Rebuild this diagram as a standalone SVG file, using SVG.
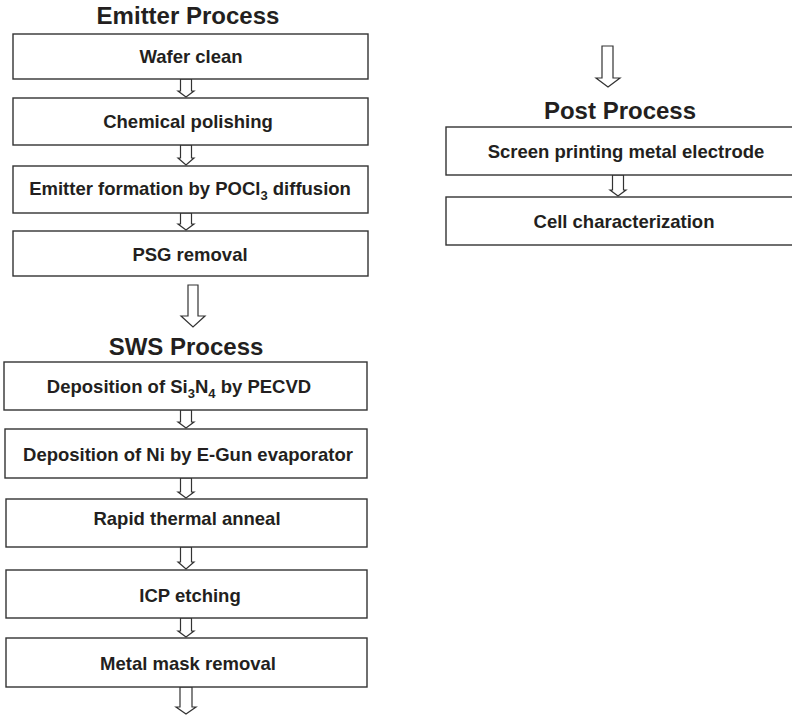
<svg xmlns="http://www.w3.org/2000/svg" width="792" height="715" viewBox="0 0 792 715">
<style>
.box{fill:#fff;stroke:#333;stroke-width:1.4}
.arr{fill:#fff;stroke:#333;stroke-width:1.2;stroke-linejoin:miter}
.t{font-family:"Liberation Sans",Arial,sans-serif;font-weight:bold;font-size:18.5px;fill:#231f20;text-anchor:middle}
.h{font-family:"Liberation Sans",Arial,sans-serif;font-weight:bold;font-size:24px;fill:#231f20;text-anchor:middle}
.sub{font-size:13px}
</style>
<rect width="792" height="715" fill="#fff"/>
<g id="titles">
<text class="h" x="188" y="24">Emitter Process</text>
<text class="h" x="186" y="355">SWS Process</text>
<text class="h" x="620" y="119">Post Process</text>
</g>
<g id="connectors">
<path class="arr" d="M180.5 79 V91 H178 L186 97 L194 91 H191.5 V79 Z"/>
<path class="arr" d="M180.5 145 V158 H178 L186 165 L194 158 H191.5 V145 Z"/>
<path class="arr" d="M180.5 213 V224 H178 L186 230 L194 224 H191.5 V213 Z"/>
<path class="arr" d="M188 285 V316 H181 L193 327 L205 316 H198 V285 Z"/>
<path class="arr" d="M180.5 410 V422 H178 L186 428 L194 422 H191.5 V410 Z"/>
<path class="arr" d="M180.5 478 V492 H178 L186 498 L194 492 H191.5 V478 Z"/>
<path class="arr" d="M180.5 547 V562 H178 L186 569 L194 562 H191.5 V547 Z"/>
<path class="arr" d="M180.5 618 V631 H178 L186 637 L194 631 H191.5 V618 Z"/>
<path class="arr" d="M180 687 V707 H176 L186 714 L196 707 H192 V687 Z"/>
<path class="arr" d="M602 46 V78 H596 L608 87 L620 78 H613 V46 Z"/>
<path class="arr" d="M612.5 175 V190 H610 L618 196 L626 190 H623.5 V175 Z"/>
</g>
<g id="n1"><rect class="box" x="13" y="34" width="355" height="45"/><text class="t" x="191" y="63">Wafer clean</text></g>
<g id="n2"><rect class="box" x="13" y="98" width="355" height="47"/><text class="t" x="188" y="128">Chemical polishing</text></g>
<g id="n3"><rect class="box" x="13" y="166" width="355" height="47"/><text class="t" x="190" y="195">Emitter formation by POCl<tspan class="sub" dy="5">3</tspan><tspan dy="-5"> diffusion</tspan></text></g>
<g id="n4"><rect class="box" x="13" y="231" width="355" height="45"/><text class="t" x="190" y="261">PSG removal</text></g>
<g id="n5"><rect class="box" x="4" y="362" width="363" height="48"/><text class="t" x="179" y="393">Deposition of Si<tspan class="sub" dy="5">3</tspan><tspan dy="-5">N</tspan><tspan class="sub" dy="5">4</tspan><tspan dy="-5"> by PECVD</tspan></text></g>
<g id="n6"><rect class="box" x="5" y="429" width="362" height="49"/><text class="t" x="188" y="461">Deposition of Ni by E-Gun evaporator</text></g>
<g id="n7"><rect class="box" x="6" y="499" width="361" height="48"/><text class="t" x="187" y="525">Rapid thermal anneal</text></g>
<g id="n8"><rect class="box" x="6" y="570" width="361" height="48"/><text class="t" x="190" y="602">ICP etching</text></g>
<g id="n9"><rect class="box" x="6" y="638" width="361" height="49"/><text class="t" x="188" y="670">Metal mask removal</text></g>
<g id="n10"><rect class="box" x="446" y="127" width="370" height="48"/><text class="t" x="626" y="158">Screen printing metal electrode</text></g>
<g id="n11"><rect class="box" x="446" y="197" width="370" height="48"/><text class="t" x="624" y="228">Cell characterization</text></g>
</svg>
